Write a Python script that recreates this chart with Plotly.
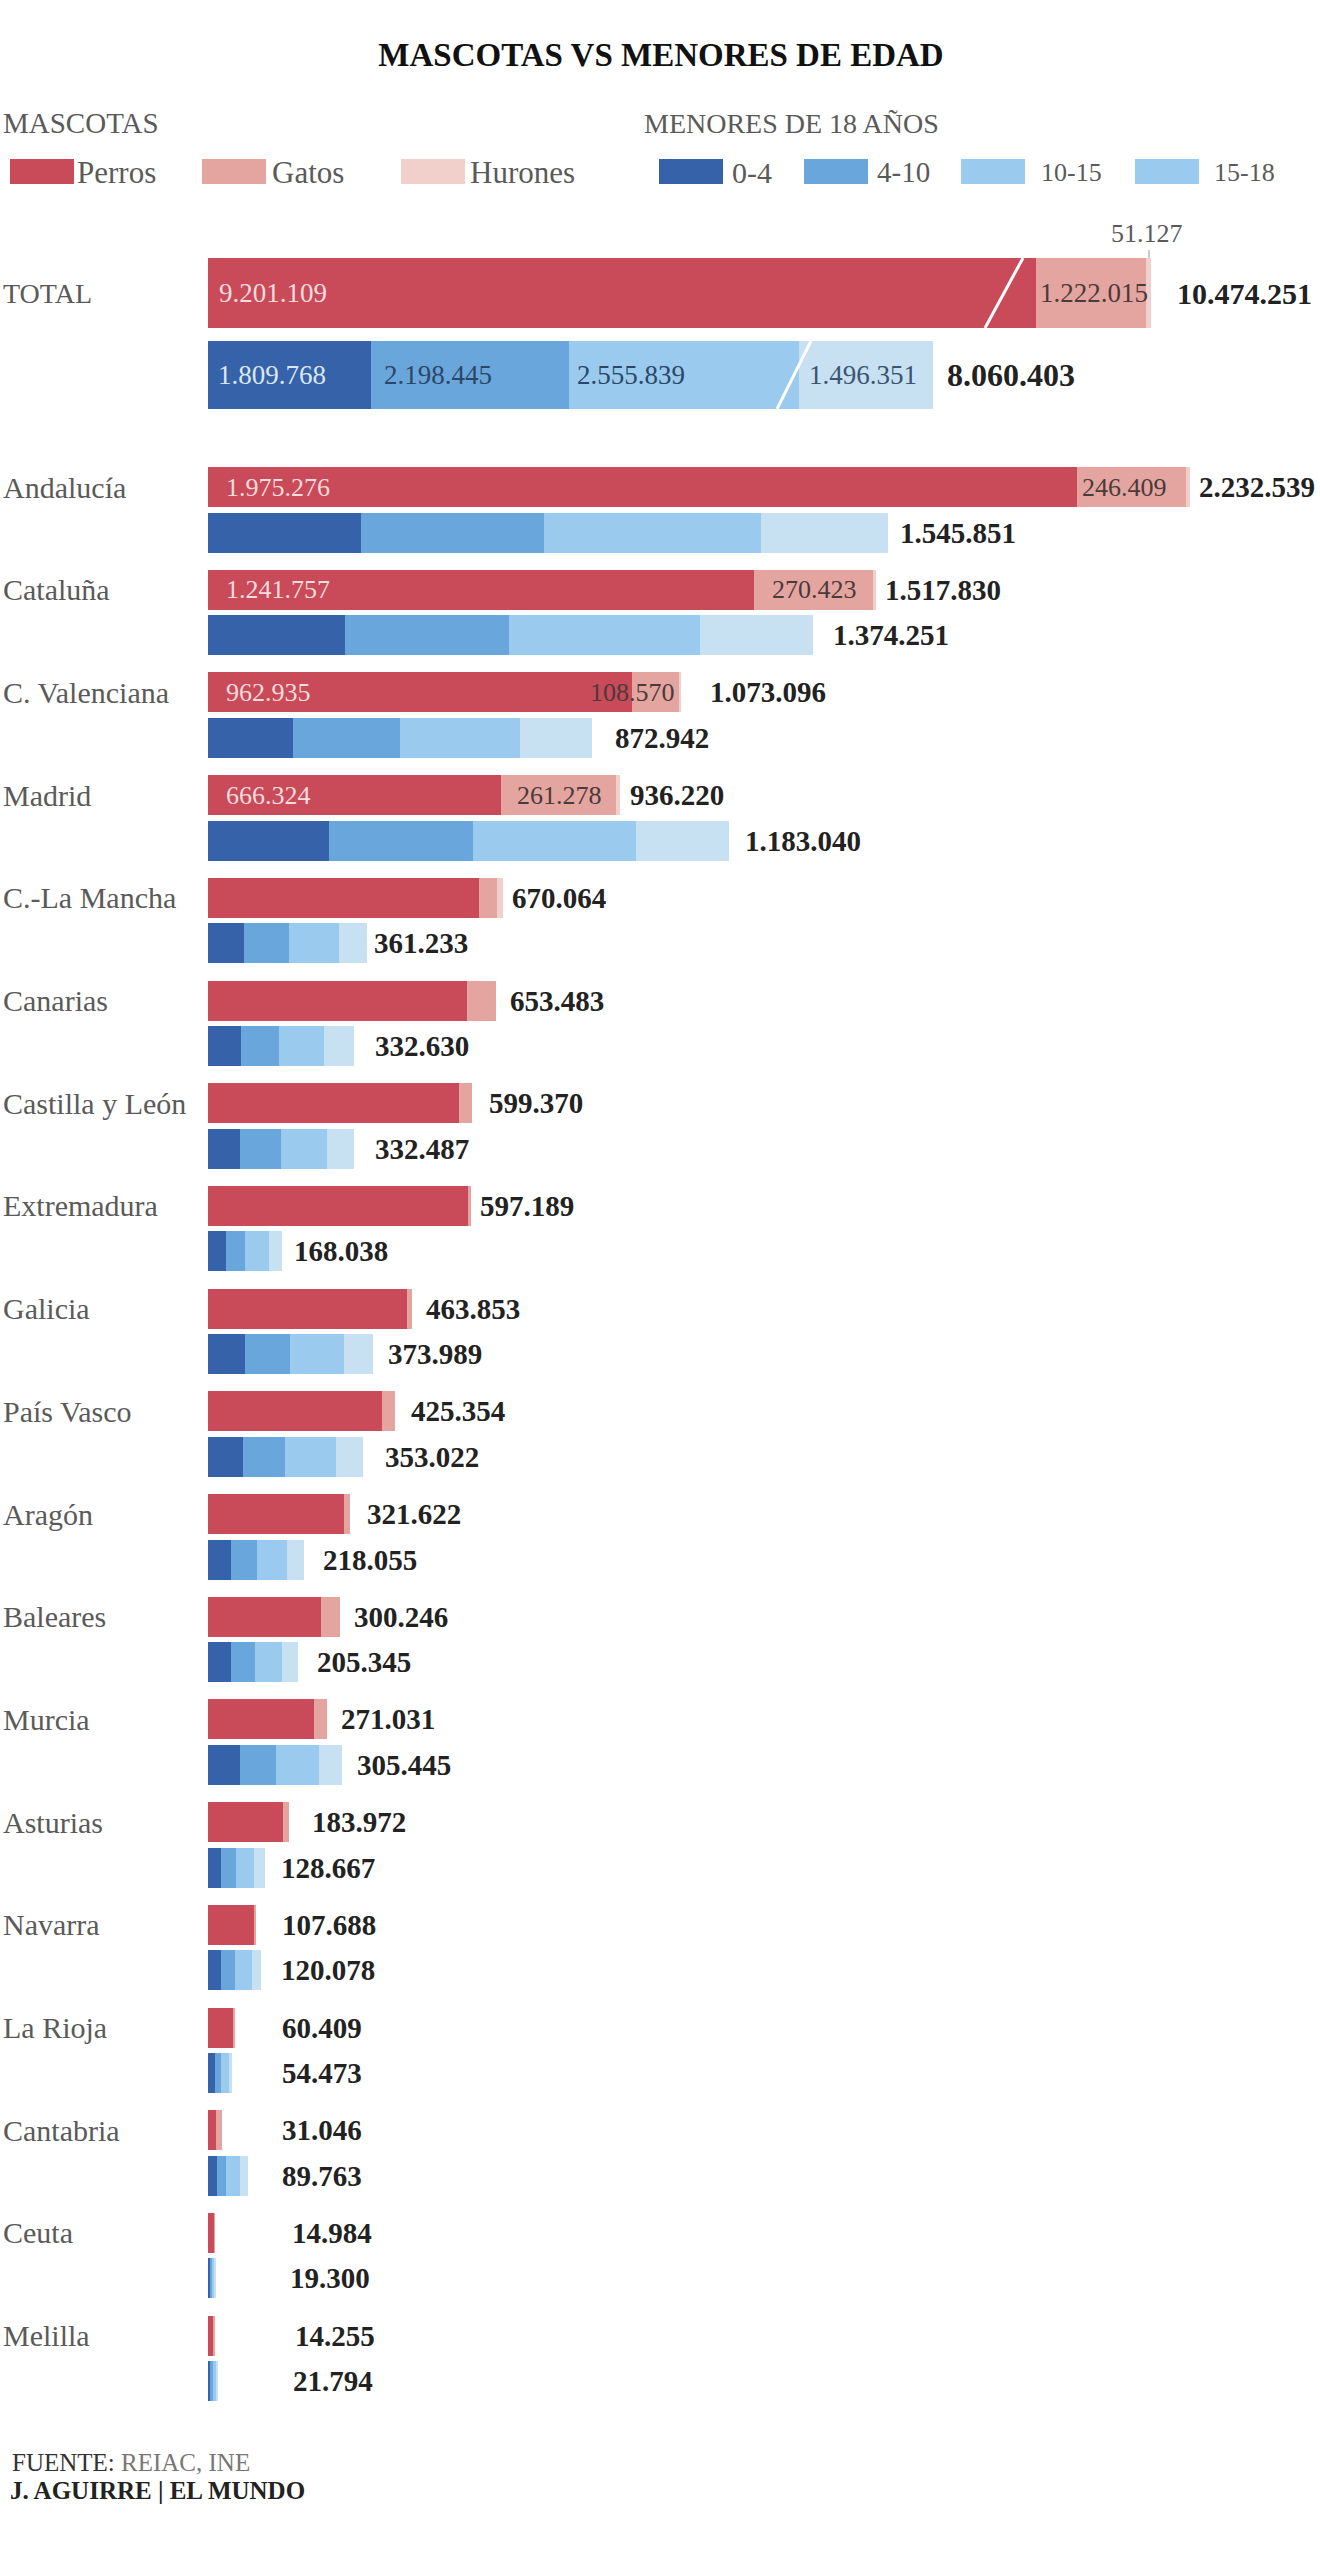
import plotly.graph_objects as go

# values
regions = ['Andalucía', 'Cataluña', 'C. Valenciana', 'Madrid', 'C.-La Mancha', 'Canarias', 'Castilla y León',
           'Extremadura', 'Galicia', 'País Vasco', 'Aragón', 'Baleares', 'Murcia', 'Asturias', 'Navarra',
           'La Rioja', 'Cantabria', 'Ceuta', 'Melilla']

perros = [1975276, 1241757, 962935, 666324, 616000, 589500, 570500, 593000, 453000, 396000, 309000, 257500,
          241000, 171000, 105000, 59000, 17500, 14000, 13600]
gatos = [246409, 270423, 108570, 261278, 40000, 63983, 28870, 4189, 10853, 29354, 12622, 42746, 30031, 12972,
         2688, 1409, 13546, 984, 655]
hurones = [10854, 5650, 1591, 8618, 14064, 0, 0, 0, 0, 0, 0, 0, 0, 0, 0, 0, 0, 0, 0]

edad_0_4 = [347000, 311000, 193300, 275700, 81600, 73900, 73800, 40000, 83900, 80000, 52600, 52000, 73800,
            28600, 28500, 15000, 21000, 4600, 5500]
edad_4_10 = [415500, 372500, 243000, 325400, 102100, 86700, 92800, 43000, 102000, 94300, 58700, 54200, 81200,
             33900, 33700, 15000, 21000, 5200, 6000]
edad_10_15 = [495000, 435000, 273800, 371400, 113400, 104100, 103300, 55000, 122400, 116900, 69200, 61800,
              97000, 41300, 37500, 17000, 30300, 6000, 6800]
edad_15_18 = [288351, 255751, 162842, 210540, 64133, 67930, 62587, 30038, 65689, 61822, 37555, 37345, 53445,
              24867, 20378, 7473, 17463, 3500, 3494]

total_mascotas = [9201109, 1222015, 51127]
total_menores = [1809768, 2198445, 2555839, 1496351]

mascotas_labels = ['2.232.539', '1.517.830', '1.073.096', '936.220', '670.064', '653.483', '599.370', '597.189',
                   '463.853', '425.354', '321.622', '300.246', '271.031', '183.972', '107.688', '60.409',
                   '31.046', '14.984', '14.255']
menores_labels = ['1.545.851', '1.374.251', '872.942', '1.183.040', '361.233', '332.630', '332.487', '168.038',
                  '373.989', '353.022', '218.055', '205.345', '305.445', '128.667', '120.078', '54.473',
                  '89.763', '19.300', '21.794']

# gap in px between each bar and its total
mascotas_gap = [7, 7, 28, 8, 7, 12, 15, 7, 12, 14, 15, 12, 12, 21, 25, 45, 58, 75, 79]
menores_gap = [10, 18, 21, 14, 5, 19, 19, 10, 13, 20, 17, 17, 13, 14, 18, 48, 32, 72, 73]

W, H = 1320, 2560
BAR_LEFT = 208
SERIF = 'Liberation Serif'

ROJO, ROSA, ROSA_CLARO = '#C94A58', '#E4A5A0', '#F1CFCB'
AZUL1, AZUL2, AZUL3, AZUL4 = '#3562A8', '#69A6DB', '#9ACBEE', '#C7E0F2'
GRIS, NEGRO = '#5A5A5A', '#222222'

# the y axis runs in page pixels, so rows are laid out by index
first_row = 487
row_step = 102.7
row_gap = 45.5
y_mascotas = [first_row + i * row_step for i in range(len(regions))]
y_menores = [y + row_gap for y in y_mascotas]

fig = go.Figure()


def bars(values, ys, color, xaxis='x', width=40):
    fig.add_trace(go.Bar(x=values, y=ys, orientation='h', width=width, xaxis=xaxis,
                         marker=dict(color=color, line=dict(width=0)), showlegend=False))


for serie, color in zip([perros, gatos, hurones], [ROJO, ROSA, ROSA_CLARO]):
    bars(serie, y_mascotas, color)
for serie, color in zip([edad_0_4, edad_4_10, edad_10_15, edad_15_18], [AZUL1, AZUL2, AZUL3, AZUL4]):
    bars(serie, y_menores, color)

# TOTAL rows use their own, much shorter scale
for v, color in zip(total_mascotas, [ROJO, ROSA, ROSA_CLARO]):
    bars([v], [293], color, xaxis='x2', width=70)
for v, color in zip(total_menores, [AZUL1, AZUL2, AZUL3, AZUL4]):
    bars([v], [375], color, xaxis='x2', width=68)


def text(txt, x, y, size=27, color=GRIS, xref='paper', xshift=0, anchor='left'):
    if xref == 'paper':
        x = x / W
    fig.add_annotation(text=txt, x=x, y=y, xref=xref, yref='y', xshift=xshift, xanchor=anchor, yanchor='middle',
                       showarrow=False, font=dict(family=SERIF, size=size, color=color))


# region names and totals
for i, name in enumerate(regions):
    text(name, 1, y_mascotas[i], size=30)
    end_m = perros[i] + gatos[i] + hurones[i]
    end_k = edad_0_4[i] + edad_4_10[i] + edad_10_15[i] + edad_15_18[i]
    text('<b>%s</b>' % mascotas_labels[i], end_m, y_mascotas[i], 29, NEGRO, 'x', mascotas_gap[i])
    text('<b>%s</b>' % menores_labels[i], end_k, y_menores[i], 29, NEGRO, 'x', menores_gap[i])

# figures inside the four biggest regions
BLANCO_ROSA = '#F6DCDD'
for i in range(4):
    text('{:,}'.format(perros[i]).replace(',', '.'), 0, y_mascotas[i], 26, BLANCO_ROSA, 'x', 16)
gatos_shift = [3, 16, -44, 14]
for i in range(4):
    text('{:,}'.format(gatos[i]).replace(',', '.'), perros[i], y_mascotas[i], 26, '#4A3A3A', 'x', gatos_shift[i])

# TOTAL row texts
text('TOTAL', 1, 293, size=28)
text('9.201.109', 0, 293, 27, BLANCO_ROSA, 'x2', 9)
text('1.222.015', total_mascotas[0], 293, 27, '#4A3A3A', 'x2', 2)
text('51.127', 1147, 233, 26, GRIS, anchor='center')
text('<b>10.474.251</b>', sum(total_mascotas), 293, 30, NEGRO, 'x2', 24)
acum = 0
for v, color, dx in zip(total_menores, ['#DCE7F6', '#2B4766', '#2B4766', '#3A5573'], [8, 11, 6, 8]):
    text('{:,}'.format(v).replace(',', '.'), acum, 375, 27, color, 'x2', dx)
    acum += v
text('<b>8.060.403</b>', acum, 375, 32, NEGRO, 'x2', 12)

# legend, drawn by hand because of the two groups
text('MASCOTAS', 1, 123, size=29)
text('MENORES DE 18 AÑOS', 642, 123, size=28)
legend = [('Perros', ROJO, 10, 75, 31), ('Gatos', ROSA, 202, 270, 31), ('Hurones', ROSA_CLARO, 401, 468, 31),
          ('0-4', AZUL1, 659, 730, 30), ('4-10', AZUL2, 804, 875, 29), ('10-15', AZUL3, 961, 1039, 26),
          ('15-18', AZUL3, 1135, 1212, 26)]
for name, color, x0, xt, size in legend:
    fig.add_shape(type='rect', xref='paper', yref='y', x0=x0 / W, x1=(x0 + 64) / W, y0=159, y1=184,
                  fillcolor=color, line_width=0)
    text(name, xt, 172, size=size)

# white slashes that break the TOTAL bars, and the tick up to 51.127
for x0, y0, x1, y1 in [(1023, 258, 985, 328), (811, 341, 777, 409)]:
    fig.add_shape(type='line', xref='paper', yref='y', x0=x0 / W, x1=x1 / W, y0=y0, y1=y1,
                  line=dict(color='white', width=3))
fig.add_shape(type='line', xref='paper', yref='y', x0=1149 / W, x1=1149 / W, y0=250, y1=258,
              line=dict(color='#999999', width=1))

# source
text('<span style="color:#333333">FUENTE:</span> REIAC, INE', 10, 2462, size=25, color='#777777')
text('<b>J. AGUIRRE | EL MUNDO</b>', 8, 2490, size=25, color=NEGRO)

axis = dict(visible=False, domain=[BAR_LEFT / W, 1])
fig.update_layout(
    width=W, height=H,
    margin=dict(l=0, r=0, t=0, b=0),
    paper_bgcolor='white', plot_bgcolor='white',
    barmode='stack', showlegend=False,
    title=dict(text='<b>MASCOTAS VS MENORES DE EDAD</b>', x=661 / W, xanchor='center', y=1 - 54 / H, yanchor='middle',
               font=dict(family=SERIF, size=33, color='#111111')),
    xaxis=dict(axis, range=[0, 2527000]),
    xaxis2=dict(axis, range=[0, 12355000], overlaying='x', anchor='y'),
    yaxis=dict(visible=False, range=[H, 0]),
)

fig.write_html("out.html", config=dict(displayModeBar=False), post_script="document.body.style.margin='0';")
